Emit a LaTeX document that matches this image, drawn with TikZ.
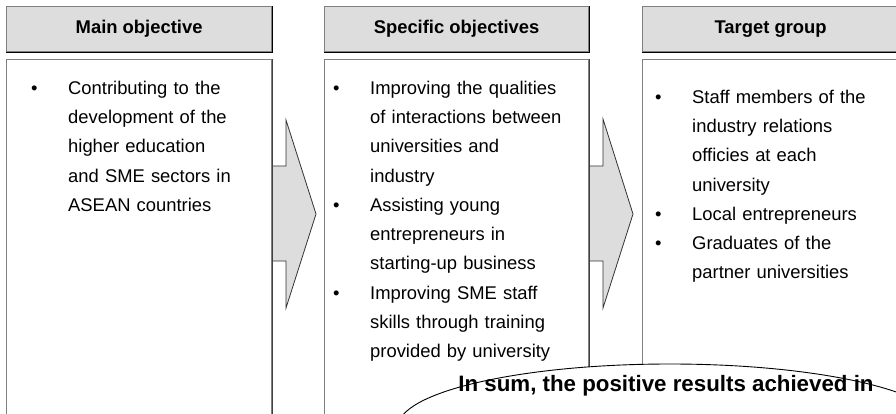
\documentclass[tikz,border=0pt]{standalone}
\usepackage{fontspec}
\setmainfont{Liberation Sans}
\usetikzlibrary{shapes.geometric}
\definecolor{hdrfill}{HTML}{DDDDDD}
\definecolor{edgegray}{HTML}{808080}
\definecolor{arrowfill}{HTML}{DDDDDD}
\newcommand\myitem[1]{\hangindent=37.2pt\hangafter=1\noindent\makebox[37.2pt][l]{\rule{0pt}{15pt}\textbullet}#1\par}
\begin{document}
\begin{tikzpicture}[x=1pt,y=-1pt,
 hdr/.style={fill=hdrfill, draw=edgegray, line width=1.2pt, minimum height=45pt, inner sep=0, anchor=north west, font=\fontsize{18.4}{22}\selectfont\bfseries},
 bodybox/.style={fill=white, draw=edgegray, line width=1pt, minimum height=355pt, inner sep=0, anchor=north west},
 bodytext/.style={inner sep=0, anchor=north west, text width=250pt, font=\fontsize{18.4}{29.3}\selectfont},
 blockarrow/.style={fill=arrowfill, draw=black!80, line width=0.8pt, line join=miter},
 darkedge/.style={draw=black, line width=1.2pt},
]
\useasboundingbox (0,0) rectangle (896,414);
\clip (0,0) rectangle (896,414);
% headers
\node[hdr, minimum width=265pt] (h1) at (6,6) {Main objective};
\node[hdr, minimum width=264pt] (h2) at (324,6) {Specific objectives};
\node[hdr, minimum width=256pt] (h3) at (642,6) {Target group};
\draw[darkedge] (h1.south west) -- (h1.south east) -- (h1.north east);
\draw[darkedge] (h2.south west) -- (h2.south east) -- (h2.north east);
\draw[darkedge] (h3.south west) -- (h3.south east) -- (h3.north east);
% block arrows
\draw[blockarrow] (262,166) -- (286,166) -- (286,120) -- (316,214) -- (286,308) -- (286,261) -- (262,261) -- cycle;
\draw[blockarrow] (580,166) -- (603,166) -- (603,119) -- (633,214) -- (603,308) -- (603,261) -- (580,261) -- cycle;
% bodies
\node[bodybox, minimum width=265pt] (b1) at (6,59) {};
\node[bodybox, minimum width=264pt] (b2) at (324,59) {};
\node[bodybox, minimum width=256pt] (b3) at (642,59) {};
\draw[black!75, line width=1pt] (b1.north east) -- (b1.south east);
\draw[black!75, line width=1pt] (b2.north east) -- (b2.south east);
% texts
\node[bodytext] (t1) at (30.8,79) {\raggedright%
\myitem{Contributing to the\newline development of the\newline higher education\newline and SME sectors in\newline ASEAN countries}};
\node[bodytext] (t2) at (332.8,79) {\raggedright%
\myitem{Improving the qualities\newline of interactions between\newline universities and\newline industry}%
\myitem{Assisting young\newline entrepreneurs in\newline starting-up business}%
\myitem{Improving SME staff\newline skills through training\newline provided by university}};
\node[bodytext] (t3) at (654.8,88) {\raggedright%
\myitem{Staff members of the\newline industry relations\newline officies at each\newline university}%
\myitem{Local entrepreneurs}%
\myitem{Graduates of the\newline partner universities}};
% summary ellipse
\node[draw=black, fill=white, ellipse, line width=0.9pt, minimum width=544pt, minimum height=126pt, inner sep=0] (sum) at (670,427) {};
\node[font=\fontsize{22.3}{26}\selectfont\bfseries, anchor=base, inner sep=0] (sumtext) at (666,391) {In sum, the positive results achieved in};
\end{tikzpicture}
\end{document}
